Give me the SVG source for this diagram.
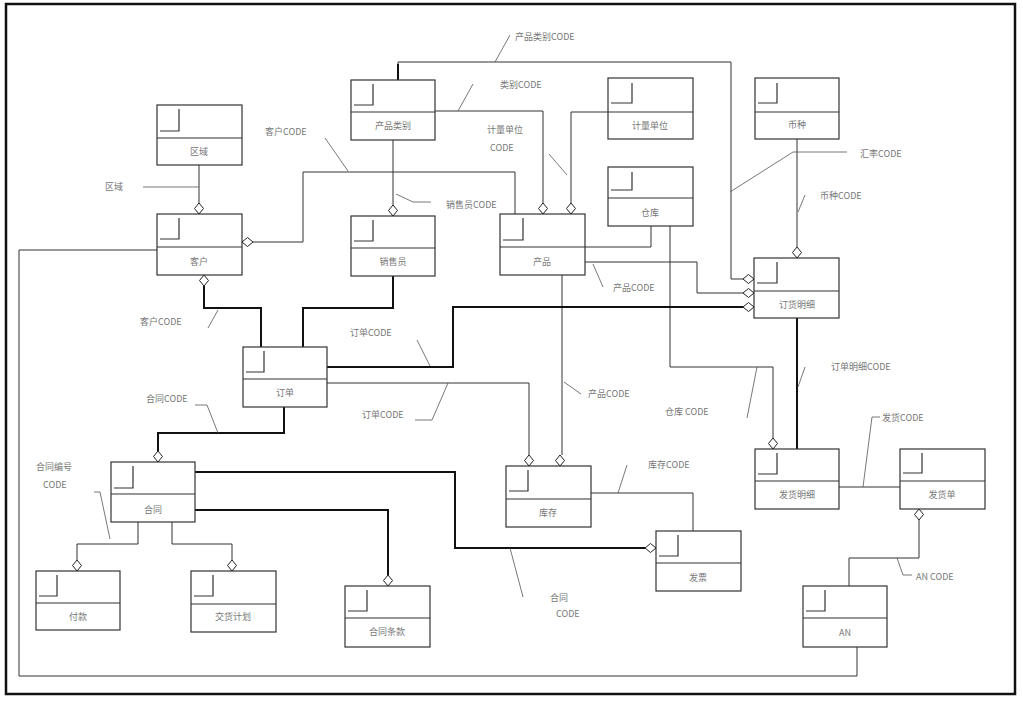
<svg xmlns="http://www.w3.org/2000/svg" width="1023" height="710" viewBox="0 0 1023 710">
<style>
.bx{fill:#fff;stroke:#333;stroke-width:1.2}
.dv{stroke:#333;stroke-width:1.2;fill:none}
.lm{stroke:#333;stroke-width:1.2;fill:none}
.t{font-family:"Noto Sans CJK SC","Liberation Sans",sans-serif;font-size:9px;fill:#777;text-anchor:middle}
.lb{font-family:"Noto Sans CJK SC","Liberation Sans",sans-serif;font-size:9px;fill:#777}
.c{stroke:#333;stroke-width:1;fill:none}
.ck{stroke:#111;stroke-width:2;fill:none}
.ld{stroke:#555;stroke-width:0.8;fill:none}
.dm{fill:#fff;stroke:#222;stroke-width:1}
</style>
<defs>
<polygon id="dv" points="0,-5.5 4.5,0 0,5.5 -4.5,0" class="dm"/>
<polygon id="dh" points="-5.5,0 0,-4.5 5.5,0 0,4.5" class="dm"/>
</defs>
<rect x="6" y="4" width="1009" height="690" fill="none" stroke="#111" stroke-width="2.5"/>

<g id="connectors">
<path class="c" d="M199,165 V203"/>
<path class="ld" d="M143,187 H199"/>
<path class="c" d="M253,242 H303 V172 H515 V214"/>
<path class="ld" d="M325,138 L348,171"/>
<path class="c" d="M398,80 V62 H731 V279 H743"/>
<path class="ck" d="M398,80 V64"/>
<path class="ld" d="M495,62 L510,35"/>
<path class="c" d="M435,111 H543 V203"/>
<path class="ld" d="M458,111 L473,84"/>
<path class="c" d="M608,112 H571 V203"/>
<path class="ld" d="M549,154 L567,175"/>
<path class="c" d="M393,140 V205"/>
<path class="ld" d="M396,194 L413,202 H431"/>
<path class="c" d="M562,275 V455"/>
<path class="ld" d="M564,382 L581,394"/>
<path class="c" d="M327,383 H529 V455"/>
<path class="ld" d="M448,383 L432,420 H415"/>
<path class="c" d="M585,247 H651 V226"/>
<path class="c" d="M670,226 V367 H773 V438"/>
<path class="ld" d="M757,367 L747,418"/>
<path class="c" d="M585,262 H697 V293 H743"/>
<path class="ld" d="M593,264 L603,287"/>
<path class="ck" d="M327,367 H453 V307 H743"/>
<path class="ld" d="M417,340 L430,366"/>
<path class="c" d="M797,139 V247"/>
<path class="ld" d="M805,195 L798,212"/>
<path class="ld" d="M847,152 H793 L730,192"/>
<path class="ck" d="M797,318 V449"/>
<path class="ld" d="M805,367 L798,387"/>
<path class="c" d="M839,487 H900"/>
<path class="ld" d="M880,417 H872 L863,487"/>
<path class="c" d="M919,520 V558 H849 V586"/>
<path class="ld" d="M897,558 L903,575 H912"/>
<path class="c" d="M857,647 V676 H19 V250 H157"/>
<path class="ck" d="M204,286 V308 H261 V347"/>
<path class="ld" d="M218,310 L208,328"/>
<path class="ck" d="M303,347 V308 H393 V276"/>
<path class="ck" d="M284,407 V433 H158 V451"/>
<path class="ld" d="M195,405 H207 L218,433"/>
<path class="c" d="M591,493 H693 V531"/>
<path class="ld" d="M627,465 L618,493"/>
<path class="ck" d="M195,472 H455 V548 H645"/>
<path class="ld" d="M510,548 L523,597"/>
<path class="ck" d="M195,510 H388 V575"/>
<path class="c" d="M138,522 V544 H77 V560"/>
<path class="c" d="M172,522 V544 H232 V560"/>
<path class="ld" d="M94,492 H100 L110,539"/>
</g>

<g id="labels">
<text class="lb" x="105" y="190">区域</text>
<text class="lb" x="265" y="135">客户CODE</text>
<text class="lb" x="515" y="40">产品类别CODE</text>
<text class="lb" x="500" y="88">类别CODE</text>
<text class="lb" x="487" y="133">计量单位</text>
<text class="lb" x="490" y="151">CODE</text>
<text class="lb" x="446" y="208">销售员CODE</text>
<text class="lb" x="588" y="397">产品CODE</text>
<text class="lb" x="362" y="418">订单CODE</text>
<text class="lb" x="665" y="415">仓库  CODE</text>
<text class="lb" x="613" y="291">产品CODE</text>
<text class="lb" x="350" y="336">订单CODE</text>
<text class="lb" x="820" y="199">币种CODE</text>
<text class="lb" x="860" y="157">汇率CODE</text>
<text class="lb" x="831" y="370">订单明细CODE</text>
<text class="lb" x="882" y="421">发货CODE</text>
<text class="lb" x="916" y="580">AN CODE</text>
<text class="lb" x="140" y="325">客户CODE</text>
<text class="lb" x="146" y="402">合同CODE</text>
<text class="lb" x="648" y="468">库存CODE</text>
<text class="lb" x="550" y="601">合同</text>
<text class="lb" x="556" y="617">CODE</text>
<text class="lb" x="36" y="470">合同编号</text>
<text class="lb" x="43" y="488">CODE</text>
</g>

<g id="nA"><rect class="bx" x="157" y="105" width="85" height="60"/><path class="dv" d="M157,138 H242"/><path class="lm" d="M160,131 H179 V109"/><text class="t" x="199" y="155">区域</text></g>
<g id="nB"><rect class="bx" x="157" y="214" width="85" height="61"/><path class="dv" d="M157,247 H242"/><path class="lm" d="M160,239 H179 V218"/><text class="t" x="199" y="265">客户</text></g>
<g id="nC"><rect class="bx" x="500" y="214" width="85" height="61"/><path class="dv" d="M500,247 H585"/><path class="lm" d="M503,240 H523 V218"/><text class="t" x="542" y="265">产品</text></g>
<g id="nD"><rect class="bx" x="351" y="80" width="84" height="60"/><path class="dv" d="M351,112 H435"/><path class="lm" d="M354,105 H373 V84"/><text class="t" x="393" y="129">产品类别</text></g>
<g id="nE"><rect class="bx" x="608" y="78" width="85" height="61"/><path class="dv" d="M608,112 H693"/><path class="lm" d="M611,103 H632 V83"/><text class="t" x="650" y="129">计量单位</text></g>
<g id="nF"><rect class="bx" x="608" y="167" width="85" height="59"/><path class="dv" d="M608,198 H693"/><path class="lm" d="M611,190 H632 V172"/><text class="t" x="650" y="216">仓库</text></g>
<g id="nS"><rect class="bx" x="755" y="78" width="84" height="61"/><path class="dv" d="M755,112 H839"/><path class="lm" d="M758,103 H777 V83"/><text class="t" x="797" y="128">币种</text></g>
<g id="nG"><rect class="bx" x="754" y="258" width="85" height="60"/><path class="dv" d="M754,291 H839"/><path class="lm" d="M757,283 H777 V262"/><text class="t" x="797" y="308">订货明细</text></g>
<g id="nH"><rect class="bx" x="755" y="449" width="84" height="60"/><path class="dv" d="M755,481 H839"/><path class="lm" d="M758,474 H777 V453"/><text class="t" x="797" y="498">发货明细</text></g>
<g id="nI"><rect class="bx" x="900" y="449" width="85" height="60"/><path class="dv" d="M900,481 H985"/><path class="lm" d="M903,473 H922 V453"/><text class="t" x="942" y="498">发货单</text></g>
<g id="nJ"><rect class="bx" x="803" y="586" width="84" height="61"/><path class="dv" d="M803,618 H887"/><path class="lm" d="M806,611 H825 V590"/><text class="t" x="845" y="636">AN</text></g>
<g id="nK"><rect class="bx" x="243" y="347" width="84" height="60"/><path class="dv" d="M243,379 H327"/><path class="lm" d="M246,372 H264 V351"/><text class="t" x="285" y="396">订单</text></g>
<g id="nL"><rect class="bx" x="351" y="216" width="84" height="60"/><path class="dv" d="M351,248 H435"/><path class="lm" d="M354,241 H373 V220"/><text class="t" x="393" y="265">销售员</text></g>
<g id="nM"><rect class="bx" x="506" y="466" width="85" height="61"/><path class="dv" d="M506,499 H591"/><path class="lm" d="M509,491 H528 V470"/><text class="t" x="548" y="516">库存</text></g>
<g id="nN"><rect class="bx" x="111" y="462" width="84" height="60"/><path class="dv" d="M111,494 H195"/><path class="lm" d="M114,488 H133 V466"/><text class="t" x="153" y="513">合同</text></g>
<g id="nO"><rect class="bx" x="656" y="531" width="85" height="60"/><path class="dv" d="M656,563 H741"/><path class="lm" d="M659,556 H678 V535"/><text class="t" x="698" y="581">发票</text></g>
<g id="nP"><rect class="bx" x="345" y="586" width="85" height="61"/><path class="dv" d="M345,618 H430"/><path class="lm" d="M348,611 H367 V590"/><text class="t" x="387" y="635">合同条款</text></g>
<g id="nQ"><rect class="bx" x="36" y="571" width="84" height="59"/><path class="dv" d="M36,603 H120"/><path class="lm" d="M39,596 H57 V575"/><text class="t" x="78" y="620">付款</text></g>
<g id="nR"><rect class="bx" x="191" y="571" width="85" height="61"/><path class="dv" d="M191,604 H276"/><path class="lm" d="M194,596 H213 V575"/><text class="t" x="233" y="620">交货计划</text></g>

<g id="diamonds">
<use href="#dv" x="199" y="208.5"/>
<use href="#dh" x="247.5" y="242"/>
<use href="#dv" x="204" y="280.5"/>
<use href="#dv" x="393" y="210.5"/>
<use href="#dv" x="543" y="208.5"/>
<use href="#dv" x="571" y="208.5"/>
<use href="#dh" x="748.5" y="279"/>
<use href="#dh" x="748.5" y="293"/>
<use href="#dh" x="748.5" y="307"/>
<use href="#dv" x="797" y="252.5"/>
<use href="#dv" x="773" y="443.5"/>
<use href="#dv" x="919" y="514.5"/>
<use href="#dv" x="529" y="460.5"/>
<use href="#dv" x="560" y="460.5"/>
<use href="#dv" x="158" y="456.5"/>
<use href="#dh" x="650.5" y="548"/>
<use href="#dv" x="388" y="580.5"/>
<use href="#dv" x="77" y="565.5"/>
<use href="#dv" x="232" y="565.5"/>
</g>
</svg>
